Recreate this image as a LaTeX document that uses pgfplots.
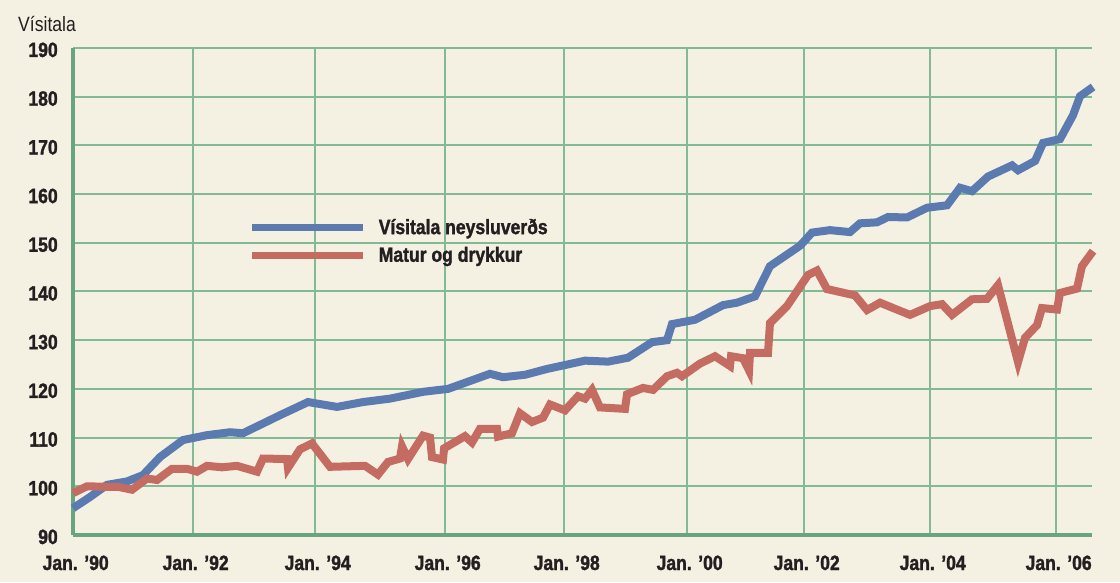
\documentclass[border=0pt]{standalone}
\usepackage{fontspec}
\setmainfont{Liberation Sans}[FakeStretch=0.85, BoldFeatures={FakeBold=1.5}]
\usepackage{pgfplots}
\pgfplotsset{compat=1.18}
\definecolor{bgc}{HTML}{F4F0E2}
\definecolor{gridc}{HTML}{82BA96}
\definecolor{axc}{HTML}{67A57E}
\definecolor{bluec}{HTML}{5B7BB0}
\definecolor{redc}{HTML}{C46B62}
\definecolor{txt}{HTML}{231F20}
\begin{document}
\begin{tikzpicture}
\path[use as bounding box, fill=bgc] (0pt,0pt) rectangle (840pt,436.5pt);
\begin{axis}[
  at={(54.75pt,35.25pt)}, anchor=south west,
  scale only axis, width=764.25pt, height=365.25pt,
  xmin=1990, xmax=2006.585, ymin=90, ymax=190,
  clip=false,
  axis x line*=bottom, axis y line*=left,
  axis line style={-, draw=axc, line width=2.4pt},
  xtick={1990,1991.953,1993.939,1996.055,1997.992,1999.993,2001.898,2003.949,2005.999},
  xticklabels={Jan. ’90,Jan. ’92,Jan. ’94,Jan. ’96,Jan. ’98,Jan. ’00,Jan. ’02,Jan. ’04,Jan. ’06},
  ytick={90,100,...,190},
  major tick length=0pt,
  grid=major,
  major grid style={draw=gridc, line width=1.5pt},
  /pgf/number format/assume math mode=true,
  ticklabel style={font=\fontsize{15.5}{18}\selectfont\bfseries, text=txt, inner sep=0pt},
  xticklabel style={anchor=base, xshift=2pt, yshift=-26.25pt},
  yticklabel style={anchor=base east, xshift=-11.25pt, yshift=-6.75pt},
  ylabel={Vísitala},
  every axis y label/.style={at={(axis description cs:-0.054,1.0349)}, anchor=base west, inner sep=0pt, font=\fontsize{15.5}{18}\selectfont, text=txt},
  legend style={at={(axis description cs:0.1717,0.655)}, anchor=north west, draw=none, fill=none,
    font=\fontsize{15.5}{18}\selectfont\bfseries, text=txt, inner sep=0pt, row sep=4pt,
    nodes={inner sep=2pt},
    /tikz/every odd column/.append style={column sep=7.5pt}},
  legend cell align=left,
  legend image code/.code={\draw[#1, line width=5.4pt] (0pt,0pt) -- (83pt,0pt);},
]
\addplot[draw=bluec, line width=6pt] coordinates {
(1990.000,95.5) (1990.277,97.8) (1990.553,100.3) (1990.879,101.0) (1991.139,102.3)
(1991.416,106.0) (1991.790,109.5) (1992.181,110.5) (1992.555,111.1) (1992.767,110.9)
(1993.044,112.6) (1993.369,114.6) (1993.825,117.3) (1994.297,116.3) (1994.720,117.3)
(1995.159,118.0) (1995.697,119.4) (1996.103,120.0) (1996.787,123.1) (1996.999,122.4)
(1997.357,122.9) (1997.715,124.1) (1998.008,124.9) (1998.333,125.8) (1998.708,125.6)
(1999.033,126.4) (1999.424,129.6) (1999.668,130.0) (1999.749,133.3) (2000.124,134.2)
(2000.579,137.2) (2000.807,137.7) (2001.100,139.0) (2001.344,145.2) (2001.833,149.4)
(2002.028,152.1) (2002.321,152.6) (2002.646,152.2) (2002.809,154.0) (2003.086,154.2)
(2003.265,155.3) (2003.574,155.2) (2003.900,157.2) (2004.225,157.7) (2004.437,161.3)
(2004.632,160.6) (2004.892,163.6) (2005.283,165.9) (2005.381,164.9) (2005.658,166.8)
(2005.788,170.5) (2006.064,171.3) (2006.276,176.2) (2006.390,180.1) (2006.602,182.0)
};
\addlegendentry{Vísitala neysluverðs}
\addplot[draw=redc, line width=6pt] coordinates {
(1990.000,98.6) (1990.228,100.0) (1990.553,99.9) (1990.732,99.9) (1990.960,99.3)
(1991.204,101.6) (1991.367,101.3) (1991.611,103.6) (1991.855,103.6) (1992.018,103.0)
(1992.181,104.2) (1992.425,103.9) (1992.669,104.2) (1992.995,103.0) (1993.092,105.7)
(1993.483,105.6) (1993.499,103.8) (1993.695,107.6) (1993.890,108.8) (1994.183,104.0)
(1994.753,104.2) (1994.964,102.4) (1995.127,105.0) (1995.322,105.7) (1995.355,108.2)
(1995.452,105.6) (1995.697,110.4) (1995.811,110.0) (1995.843,106.0) (1996.022,105.5)
(1996.040,107.8) (1996.380,110.3) (1996.494,109.0) (1996.624,111.8) (1996.901,111.8)
(1996.917,110.2) (1997.145,110.9) (1997.275,115.0) (1997.471,113.2) (1997.650,114.1)
(1997.764,116.8) (1998.008,115.6) (1998.219,118.5) (1998.333,118.0) (1998.447,119.8)
(1998.577,116.2) (1998.984,115.9) (1999.017,118.9) (1999.277,120.2) (1999.440,119.8)
(1999.668,122.6) (1999.831,123.3) (1999.912,122.6) (2000.205,125.2) (2000.449,126.7)
(2000.693,124.7) (2000.710,126.7) (2000.905,126.3) (2001.003,123.8) (2001.019,127.4)
(2001.312,127.4) (2001.344,133.5) (2001.621,137.0) (2001.963,143.4) (2002.109,144.3)
(2002.272,140.5) (2002.728,139.2) (2002.923,136.2) (2003.135,137.7) (2003.623,135.2)
(2003.949,137.0) (2004.144,137.4) (2004.307,135.2) (2004.632,138.4) (2004.876,138.5)
(2005.055,141.3) (2005.381,125.5) (2005.495,130.5) (2005.690,133.1) (2005.771,136.6)
(2006.016,136.3) (2006.064,139.7) (2006.341,140.6) (2006.422,145.2) (2006.602,148.3)
};
\addlegendentry{Matur og drykkur}
\end{axis}
\end{tikzpicture}
\end{document}
